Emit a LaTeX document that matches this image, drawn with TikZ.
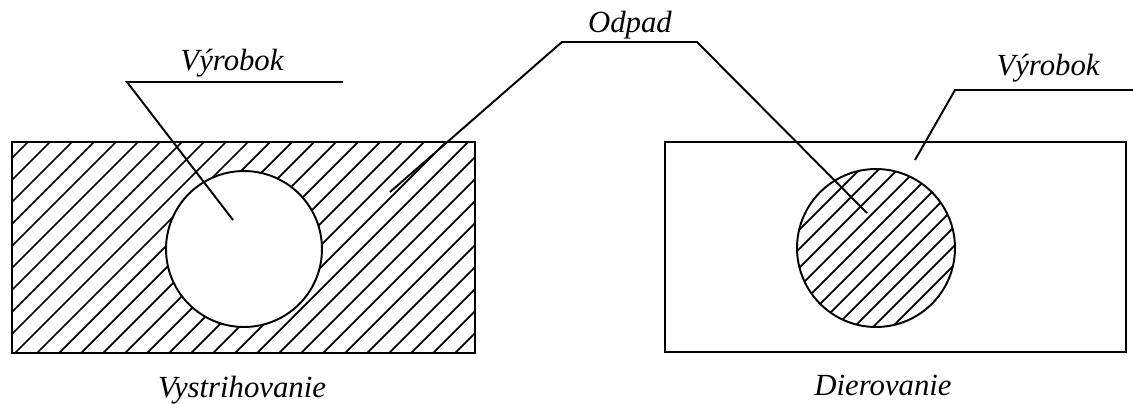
\documentclass[tikz,border=0pt]{standalone}
\usepackage{fontspec}
\setmainfont{Liberation Serif}
\usepackage{tikz}

\begin{document}
\begin{tikzpicture}[x=0.02cm, y=-0.02cm, line width=1.1pt,
    lbl/.style={font=\fontsize{17.5}{20}\selectfont\itshape, anchor=base, inner sep=0pt},
    hatch/.style={line width=1pt}]
      \useasboundingbox (0,0) rectangle (1133,403);
      \begin{scope}
          \clip (12,142) rectangle (475,353);
          \foreach \i in {-234,-212,...,480} \draw[hatch] (\i,360) -- ++(230,-230);
      \end{scope}
      \draw (12,142) rectangle (475,353);
      \node (hole) [circle, draw, fill=white, inner sep=0pt, minimum size=3.12cm] at (244,249) {};
      \draw (665,142) rectangle (1126,352);
      \node (slug) [circle, draw, inner sep=0pt, minimum size=3.16cm] at (876,248) {};
      \begin{scope}
          \clip (slug.center) circle[radius=1.58cm];
          \foreach \i in {642,661,...,960} \draw[hatch] (\i,330) -- ++(200,-200);
      \end{scope}
      \node[lbl] (vyrL) at (232,70) {Výrobok};
      \node[lbl] (odpad) at (630,32) {Odpad};
      \node[lbl] (vyrR) at (1048,75) {Výrobok};
      \node[lbl] (vystr) at (242,397) {Vystrihovanie};
      \node[lbl] (dier) at (883,395) {Dierovanie};
      \coordinate (vyrLa) at (127,82);
      \coordinate (vyrLb) at (343,82);
      \coordinate (vyrLp) at (233,220);
      \coordinate (odpa) at (562,42);
      \coordinate (odpb) at (697,42);
      \coordinate (odpL) at (390,192);
      \coordinate (odpR) at (867,213);
      \coordinate (vyrRa) at (955,90);
      \coordinate (vyrRb) at (1133,90);
      \coordinate (vyrRp) at (915,160);
      \draw (vyrLb) -- (vyrLa) -- (vyrLp);
      \draw (odpL) -- (odpa) -- (odpb) -- (odpR);
      \draw (vyrRb) -- (vyrRa) -- (vyrRp);
\end{tikzpicture}
\end{document}
